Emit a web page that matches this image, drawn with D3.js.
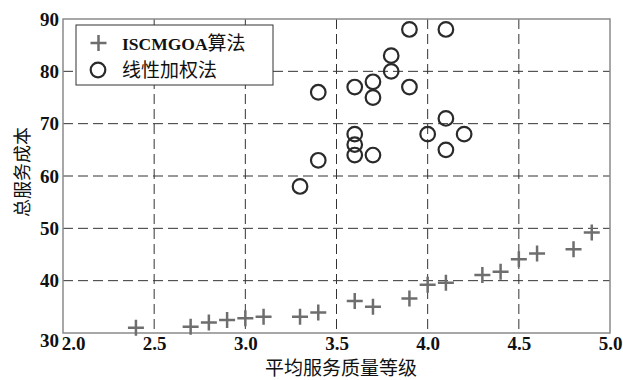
<!DOCTYPE html>
<html><head><meta charset="utf-8">
<script src="https://cdn.jsdelivr.net/npm/d3@7"></script>
<style>body{margin:0;background:#fff}svg{display:block}</style>
</head><body><svg id="c" width="623" height="380"></svg>
<script>
const xTicks = [2.0, 2.5, 3.0, 3.5, 4.0, 4.5, 5.0];
const yTicks = [30, 40, 50, 60, 70, 80, 90];
const crossX = [2.4, 2.7, 2.8, 2.9, 3.0, 3.1, 3.3, 3.4, 3.6, 3.7, 3.9, 4.0, 4.1, 4.3, 4.4, 4.5, 4.6, 4.8, 4.9];
const crossY = [31.0, 31.2, 32.0, 32.5, 32.8, 33.1, 33.1, 33.9, 36.1, 35.0, 36.6, 39.2, 39.6, 41.1, 41.7, 44.1, 45.2, 46.0, 49.2];
const circX = [3.9, 4.1, 3.8, 3.8, 3.7, 3.6, 3.7, 3.9, 3.4, 4.1, 4.0, 4.2, 4.1, 3.6, 3.6, 3.6, 3.7, 3.4, 3.3];
const circY = [88, 88, 83, 80, 78, 77, 75, 77, 76, 71, 68, 68, 65, 68, 66, 64, 64, 63, 58];
const seriesNames = ["ISCMGOA算法", "线性加权法"];
const xTitle = "平均服务质量等级";
const yTitle = "总服务成本";

const svg = d3.select("#c");
const L = 63, R = 610, T = 19, B = 333;
const x = d3.scaleLinear().domain([2, 5]).range([L, R]);
const y = d3.scaleLinear().domain([30, 90]).range([B, T]);

// grid
const g = svg.append("g");
g.selectAll("line.vx").data(xTicks.slice(1, -1)).join("line")
  .attr("x1", d => x(d)).attr("x2", d => x(d)).attr("y1", T).attr("y2", B)
  .attr("stroke", "#333").attr("stroke-width", 1).attr("stroke-dasharray", "10,5");
g.selectAll("line.hy").data(yTicks.slice(1, -1)).join("line")
  .attr("y1", d => y(d)).attr("y2", d => y(d)).attr("x1", L).attr("x2", R)
  .attr("stroke", "#333").attr("stroke-width", 1).attr("stroke-dasharray", "10,5");

// frame
svg.append("rect").attr("x", L).attr("y", T).attr("width", R - L).attr("height", B - T)
  .attr("fill", "none").attr("stroke", "#8a8a8a").attr("stroke-width", 1.5);

// axes (labels only)
const fontNum = "'Liberation Serif','Times New Roman',serif";
const xa = svg.append("g").attr("transform", `translate(0,${B})`)
  .call(d3.axisBottom(x).tickValues(xTicks).tickFormat(d3.format(".1f")).tickSize(0).tickPadding(4));
xa.select(".domain").remove();
xa.selectAll("text").attr("font-family", fontNum).attr("font-weight", "bold")
  .attr("font-size", 19).attr("fill", "#111")
  .attr("dx", d => d === 2 ? 10 : 0);
const ya = svg.append("g").attr("transform", `translate(${L},0)`)
  .call(d3.axisLeft(y).tickValues(yTicks).tickSize(0).tickPadding(4));
ya.select(".domain").remove();
ya.selectAll("text").attr("font-family", fontNum).attr("font-weight", "bold")
  .attr("font-size", 19).attr("fill", "#111")
  .attr("dy", d => d === 30 ? "0.7em" : "0.32em");

// crosses
const cs = 8;
svg.append("g").selectAll("path").data(crossX.map((d, i) => [d, crossY[i]])).join("path")
  .attr("d", d => `M${x(d[0]) - cs},${y(d[1])}H${x(d[0]) + cs}M${x(d[0])},${y(d[1]) - cs}V${y(d[1]) + cs}`)
  .attr("stroke", "#6e6e6e").attr("stroke-width", 2.5).attr("fill", "none");

// circles
svg.append("g").selectAll("circle").data(circX.map((d, i) => [d, circY[i]])).join("circle")
  .attr("cx", d => x(d[0])).attr("cy", d => y(d[1])).attr("r", 7.3)
  .attr("fill", "none").attr("stroke", "#2a2a2a").attr("stroke-width", 2.2);

// legend
const lg = svg.append("g");
lg.append("rect").attr("x", 76).attr("y", 25).attr("width", 197).attr("height", 60)
  .attr("fill", "#fff").attr("stroke", "#333").attr("stroke-width", 1);
lg.append("path").attr("d", `M${98.5 - cs},43H${98.5 + cs}M98.5,${43 - cs}V${43 + cs}`)
  .attr("stroke", "#6e6e6e").attr("stroke-width", 2.5);
lg.append("circle").attr("cx", 98).attr("cy", 70).attr("r", 7.3)
  .attr("fill", "none").attr("stroke", "#2a2a2a").attr("stroke-width", 2.2);
const t1 = lg.append("text").attr("x", 122).attr("y", 50).attr("fill", "#111");
t1.append("tspan").attr("font-family", fontNum).attr("font-weight", "bold").attr("font-size", 17.5)
  .text(seriesNames[0].slice(0, 7));
t1.append("tspan").attr("font-family", "'Noto Sans CJK SC',sans-serif").attr("font-size", 19)
  .text(seriesNames[0].slice(7));
lg.append("text").attr("x", 122).attr("y", 77).attr("fill", "#111")
  .attr("font-family", "'Noto Sans CJK SC',sans-serif").attr("font-size", 19).text(seriesNames[1]);

// titles
svg.append("text").attr("x", 341).attr("y", 375).attr("text-anchor", "middle")
  .attr("font-family", "'Noto Sans CJK SC',sans-serif").attr("font-size", 19).attr("fill", "#111")
  .text(xTitle);
svg.append("text").attr("transform", "translate(29,172) rotate(-90)").attr("text-anchor", "middle")
  .attr("font-family", "'Noto Sans CJK SC',sans-serif").attr("font-size", 18).attr("fill", "#111")
  .text(yTitle);
</script></body></html>
